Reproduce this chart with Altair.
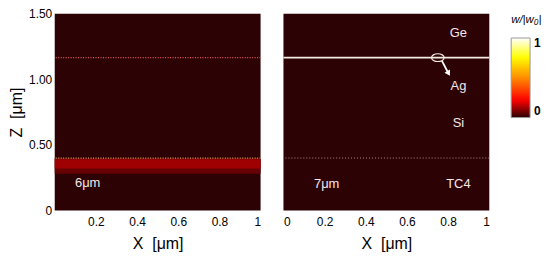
import altair as alt
import pandas as pd

# Field bands (nested z intervals in µm, drawn in order) and normalised |w|/|w0| values
z_lo = [0.0, 0.28, 0.32]
z_hi = [1.50, 0.40, 0.39]
left_vals = [0.0, 0.06, 0.12]
right_vals = [0.0]

# Interfaces (µm)
ag_z = 1.165
tc4_z = 0.40

# Annotations
ann_right_labels = ["Ge", "Ag", "Si", "TC4", "7μm"]
ann_right_x = [0.85, 0.85, 0.85, 0.85, 0.21]
ann_right_z = [1.35, 0.95, 0.67, 0.20, 0.20]
ann_left_labels = ["6μm"]
ann_left_x = [0.16]
ann_left_z = [0.21]

# marker ellipse / arrow
ell_x, ell_z = [0.75], [1.165]
arr_x, arr_z, arr_x2, arr_z2 = [0.77], [1.14], [0.80], [1.05]

y_ticks = [0, 0.25, 0.5, 0.75, 1.0, 1.25, 1.5]
x_ticks_left = [0.2, 0.4, 0.6, 0.8, 1.0]
x_ticks_right = [0, 0.2, 0.4, 0.6, 0.8, 1.0]

FONT = "Liberation Sans"
W, H = 207, 198

cmap_dom = [0, 0.22, 0.5, 0.76, 1]
cmap_rng = ["#2c0205", "#ff0000", "#ff8c00", "#ffff00", "#ffffff"]


def field_df(vals):
    n = len(vals)
    return pd.DataFrame({"x": [0.0] * n, "x2": [1.0] * n,
                         "z": z_lo[:n], "z2": z_hi[:n], "v": vals, "o": list(range(n))})


xlab = "datum.value == 0 ? '0' : datum.value == 1 ? '1' : format(datum.value, '.1f')"
ylab = "datum.value == 0 ? '0' : format(datum.value, '.2f')"

xscale = alt.Scale(domain=[0, 1], nice=False, zero=False)
yscale = alt.Scale(domain=[0, 1.5], nice=False)
cscale = alt.Scale(domain=cmap_dom, range=cmap_rng, interpolate="rgb")


def panel(vals, xticks, show_y, legend, labels, lx, lz, solid_top):
    base_x_axis = alt.Axis(values=xticks, labelExpr=xlab, title="X\u00a0\u00a0[μm]", domain=False,
                           ticks=False, grid=False, labelFontSize=12, titleFontSize=16,
                           titleFontWeight="normal", labelPadding=6, titlePadding=8,
                           labelFont=FONT, titleFont=FONT, labelColor="#000", titleColor="#000")
    if show_y:
        y_axis = alt.Axis(values=y_ticks, labelExpr=ylab, title="Z\u00a0\u00a0[μm]", domain=False,
                          ticks=False, grid=False, labelFontSize=12, titleFontSize=16,
                          titleFontWeight="normal", labelPadding=3, titlePadding=4,
                          labelFont=FONT, titleFont=FONT, labelColor="#000", titleColor="#000")
    else:
        y_axis = None
    heat = alt.Chart(field_df(vals)).mark_rect().encode(
        x=alt.X("x:Q", scale=xscale, axis=base_x_axis),
        x2="x2",
        y=alt.Y("z:Q", scale=yscale, axis=y_axis),
        y2="z2",
        color=alt.Color("v:Q", scale=cscale, legend=legend),
        order=alt.Order("o:Q"),
    )
    layers = [heat]
    if solid_top:
        top = alt.Chart(pd.DataFrame({"z": [ag_z]})).mark_rule(
            color="#f4ece0", strokeWidth=1.6).encode(y="z:Q")
        bot = alt.Chart(pd.DataFrame({"z": [tc4_z]})).mark_rule(
            color="#b08c8c", strokeWidth=1, strokeDash=[1, 2]).encode(y="z:Q")
    else:
        top = alt.Chart(pd.DataFrame({"z": [ag_z]})).mark_rule(
            color="#e85a5a", strokeWidth=1.3, strokeDash=[1, 1.5]).encode(y="z:Q")
        bot = alt.Chart(pd.DataFrame({"z": [tc4_z]})).mark_rule(
            color="#d0a850", strokeWidth=1.3, strokeDash=[1, 1.5]).encode(y="z:Q")
    layers += [top, bot]
    txt = alt.Chart(pd.DataFrame({"x": lx, "z": lz, "t": labels})).mark_text(
        font=FONT, fontSize=13, color="#f6e8e8", align="center", baseline="middle").encode(
        x="x:Q", y="z:Q", text="t:N")
    layers.append(txt)
    if solid_top:
        ell = alt.Chart(pd.DataFrame({"x": ell_x, "z": ell_z})).mark_point(
            shape="M-1,0A1,0.62,0,1,1,1,0A1,0.62,0,1,1,-1,0Z", size=160, filled=False,
            color="#f4ece0", strokeWidth=1.2, opacity=1).encode(x="x:Q", y="z:Q")
        arr = alt.Chart(pd.DataFrame({"x": arr_x, "z": arr_z, "x2": arr_x2, "z2": arr_z2})).mark_rule(
            color="#ffffff", strokeWidth=1.8).encode(x="x:Q", y="z:Q", x2="x2:Q", y2="z2:Q")
        head = alt.Chart(pd.DataFrame({"x": arr_x2, "z": arr_z2})).mark_point(
            shape="triangle", size=40, filled=True, color="#ffffff", angle=150, opacity=1).encode(
            x="x:Q", y="z:Q")
        layers += [ell, arr, head]
    return alt.layer(*layers).properties(width=W, height=H)


legend = alt.Legend(title="w/|w₀|", values=[0, 1], format="d", gradientLength=80,
                    gradientThickness=19, gradientStrokeColor="#999999", gradientStrokeWidth=1,
                    labelFontSize=12, labelFontWeight="bold", labelFont=FONT, labelColor="#000",
                    titleFont=FONT, titleFontSize=11.5, titleFontStyle="italic",
                    titleFontWeight="normal", titleColor="#000", titlePadding=13, offset=21,
                    labelOffset=4, direction="vertical", type="gradient")

left = panel(left_vals, x_ticks_left, True, legend, ann_left_labels, ann_left_x, ann_left_z, False)
right = panel(right_vals, x_ticks_right, False, None, ann_right_labels, ann_right_x, ann_right_z, True)

chart = alt.hconcat(left, right, spacing=21).properties(
    padding={"top": -1, "left": 0, "right": 0, "bottom": 0}
).configure_view(stroke=None)

chart.save("out.html", embed_options={"renderer": "svg", "actions": False})
